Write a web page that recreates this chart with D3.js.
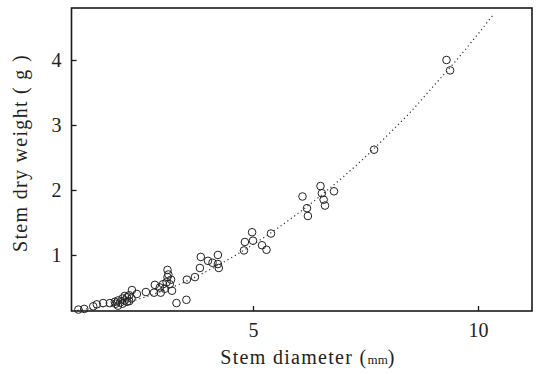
<!DOCTYPE html>
<html>
<head>
<meta charset="utf-8">
<script src="https://cdn.jsdelivr.net/npm/d3@7"></script>
<style>
  body { margin: 0; background: #fff; }
  text { font-family: "Liberation Serif", "DejaVu Serif", serif; fill: #222; }
</style>
</head>
<body>
<div id="chart"></div>
<script>
// stem diameter (mm) and stem dry weight (g)
var diameter = [9.3, 9.38, 7.69,
  6.1, 6.2, 6.22, 6.5, 6.53, 6.57, 6.6, 6.8,
  4.8, 4.82, 4.98, 5.0, 5.2, 5.3, 5.4,
  3.84, 3.82, 3.71, 4.0, 4.1, 4.22, 4.22, 4.24,
  3.53, 3.3, 3.52,
  2.8, 2.82, 2.93, 2.95, 3.04, 3.08, 3.1, 3.1, 3.15, 3.2, 3.0, 3.12, 3.18,
  2.62, 2.42, 2.31,
  2.3, 2.25, 2.2, 2.15, 2.1, 2.05, 2.0, 2.1, 2.2, 1.95, 2.15, 2.0, 2.25,
  1.93, 1.82, 1.67, 1.53, 1.45, 1.25, 1.12];
var weight = [4.0, 3.84, 2.62,
  1.9, 1.72, 1.6, 2.06, 1.95, 1.85, 1.76, 1.98,
  1.07, 1.2, 1.35, 1.22, 1.15, 1.08, 1.33,
  0.97, 0.8, 0.66, 0.91, 0.88, 1.0, 0.86, 0.8,
  0.62, 0.26, 0.31,
  0.42, 0.54, 0.5, 0.42, 0.48, 0.58, 0.66, 0.77, 0.55, 0.45, 0.55, 0.7, 0.62,
  0.43, 0.4, 0.46,
  0.33, 0.38, 0.35, 0.3, 0.33, 0.27, 0.3, 0.25, 0.28, 0.25, 0.37, 0.22, 0.29,
  0.28, 0.26, 0.26, 0.24, 0.21, 0.17, 0.16];

// points along the dotted regression curve
var curveX = [1.1, 1.5, 2, 2.5, 3, 3.5, 4, 4.5, 5, 5.5, 6, 6.5, 7, 7.5, 8, 8.5, 9, 9.5, 10, 10.33];
var curveY = [0.15, 0.19, 0.24, 0.33, 0.45, 0.59, 0.76, 0.95, 1.16, 1.39, 1.64, 1.91, 2.2, 2.51, 2.85, 3.2, 3.59, 3.98, 4.4, 4.69];

var xTicks = [5, 10];
var yTicks = [1, 2, 3, 4];

var width = 537, height = 374;
var mLeft = 71.5, mRight = 532, mTop = 8, mBottom = 311;

var svg = d3.select("#chart").append("svg")
  .attr("width", width)
  .attr("height", height);

var x = d3.scaleLinear().domain([0.967, 11.2]).range([mLeft, mRight]);
var y = d3.scaleLinear().domain([0.138, 4.8]).range([mBottom, mTop]);

// frame
svg.append("rect")
  .attr("x", mLeft).attr("y", mTop)
  .attr("width", mRight - mLeft).attr("height", mBottom - mTop)
  .attr("fill", "none")
  .attr("stroke", "#1a1a1a")
  .attr("stroke-width", 1.6);

// inward ticks
var xAxis = svg.append("g")
  .attr("transform", "translate(0," + mBottom + ")")
  .call(d3.axisBottom(x).tickValues(xTicks).tickFormat(d3.format("d"))
    .tickSizeInner(-5).tickSizeOuter(0).tickPadding(12));
var yAxis = svg.append("g")
  .attr("transform", "translate(" + mLeft + ",0)")
  .call(d3.axisLeft(y).tickValues(yTicks).tickFormat(d3.format("d"))
    .tickSizeInner(-5).tickSizeOuter(0).tickPadding(10));

[xAxis, yAxis].forEach(function (a) {
  a.select(".domain").remove();
  a.selectAll(".tick line").attr("stroke", "#1a1a1a").attr("stroke-width", 1.3);
  a.selectAll(".tick text")
    .style("font-family", "'Liberation Serif', serif")
    .style("font-size", "20px")
    .attr("fill", "#222");
});

// dotted curve
var curveData = curveX.map(function (d, i) { return [d, curveY[i]]; });
var line = d3.line()
  .x(function (d) { return x(d[0]); })
  .y(function (d) { return y(d[1]); })
  .curve(d3.curveMonotoneX);

svg.append("path")
  .datum(curveData)
  .attr("d", line)
  .attr("fill", "none")
  .attr("stroke", "#333")
  .attr("stroke-width", 1.2)
  .attr("stroke-dasharray", "1.2 3");

// open circles
var pts = diameter.map(function (d, i) { return {x: d, y: weight[i]}; });
svg.append("g").selectAll("circle")
  .data(pts)
  .enter().append("circle")
  .attr("cx", function (d) { return x(d.x); })
  .attr("cy", function (d) { return y(d.y); })
  .attr("r", 3.8)
  .attr("fill", "none")
  .attr("stroke", "#222")
  .attr("stroke-width", 1);

// axis titles
var xt = svg.append("text")
  .attr("x", 308).attr("y", 364)
  .attr("text-anchor", "middle")
  .style("font-size", "20px")
  .style("letter-spacing", "1.3px");
xt.append("tspan").text("Stem diameter (");
xt.append("tspan").style("font-size", "13px").style("letter-spacing", "0px").text("mm");
xt.append("tspan").text(")");

svg.append("text")
  .attr("transform", "translate(27,153) rotate(-90)")
  .attr("text-anchor", "middle")
  .style("font-size", "20px")
  .style("letter-spacing", "1.3px")
  .text("Stem dry weight ( g )");
</script>
</body>
</html>
